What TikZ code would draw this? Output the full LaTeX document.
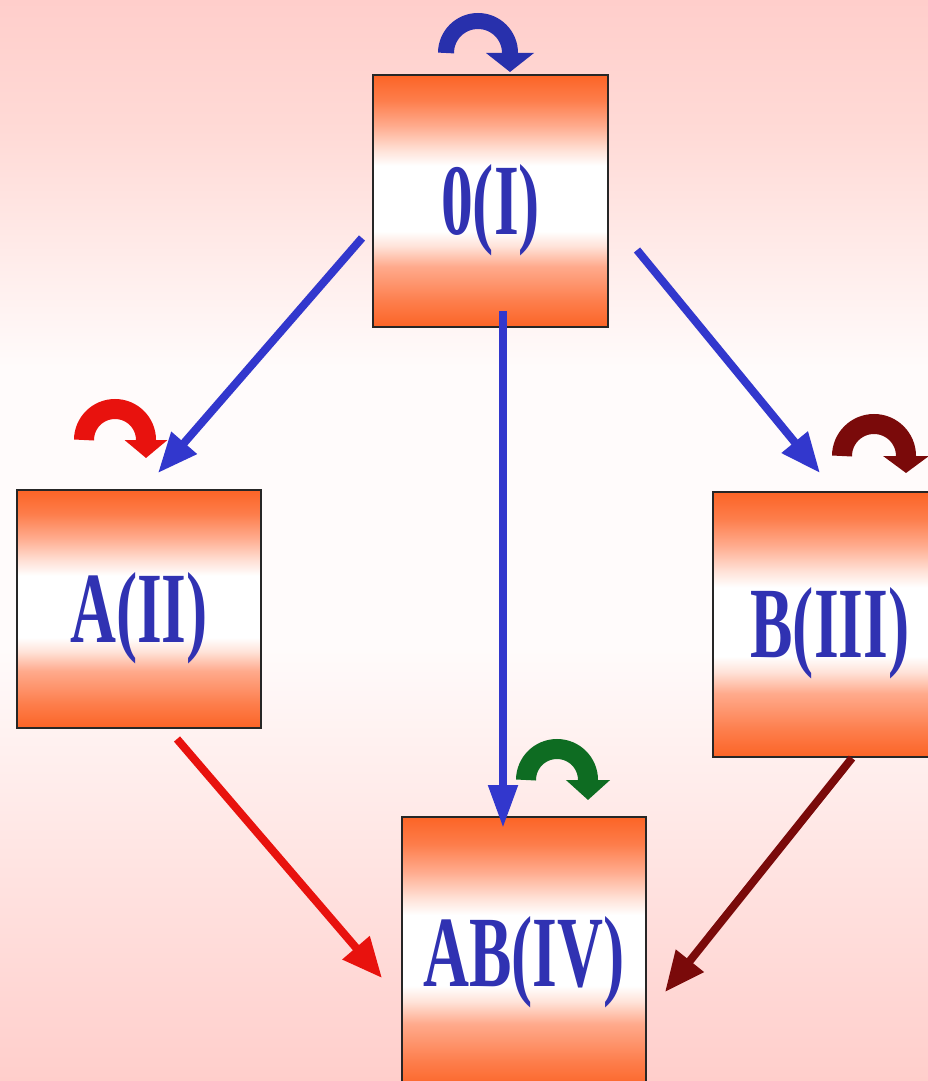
\documentclass[tikz,border=0pt]{standalone}
\usepackage{fontspec}
\setmainfont{Liberation Serif}
\usetikzlibrary{arrows.meta,calc}
\definecolor{orng}{RGB}{252,100,38}
\definecolor{orng2}{RGB}{253,125,75}
\definecolor{salm}{RGB}{255,170,140}
\definecolor{pale}{RGB}{255,226,216}
\definecolor{pkA}{RGB}{255,206,203}
\definecolor{pkB}{RGB}{255,218,214}
\definecolor{pkW}{RGB}{255,251,251}
\definecolor{pkC}{RGB}{255,230,228}
\definecolor{txtblue}{RGB}{48,50,178}
\definecolor{arrblue}{RGB}{50,55,205}
\definecolor{loopblue}{RGB}{40,48,172}
\definecolor{myred}{RGB}{232,18,14}
\definecolor{maroon}{RGB}{122,10,10}
\definecolor{mygreen}{RGB}{14,108,34}
\pgfdeclareverticalshading{boxshade}{100bp}{color(0bp)=(orng); color(25bp)=(orng); color(30bp)=(orng2); color(37bp)=(salm); color(41bp)=(pale); color(44bp)=(white); color(57bp)=(white); color(60bp)=(pale); color(65bp)=(salm); color(70bp)=(orng2); color(75bp)=(orng); color(100bp)=(orng)}
\pgfdeclareverticalshading{bgshade}{100bp}{color(0bp)=(pkA); color(25bp)=(pkA); color(36bp)=(pkC); color(45bp)=(pkW); color(58bp)=(pkW); color(69bp)=(pkB); color(75bp)=(pkA); color(100bp)=(pkA)}
\tikzset{
  statebox/.style={rectangle, draw=black!85, line width=2.3pt, shading=boxshade,
    inner sep=0pt, text=txtblue, font=\fontsize{101}{110}\selectfont\bfseries,
    text height=70pt, text depth=4pt, align=center},
  trans/.style={line width=8pt, -{Triangle[width=32pt,length=40pt]}},
  selfloop/.style={line width=18pt}
}
\newcommand{\cond}[1]{\scalebox{0.63}[1]{#1}}
\begin{document}
\begin{tikzpicture}[x=1pt,y=1pt]
\useasboundingbox (0,0) rectangle (928,-1081);
\shade[shading=bgshade] (0,0) rectangle (928,-1081);

\node[statebox, minimum width=235pt, minimum height=252pt] (O) at (490.5,-201) {\cond{0(I)}};
\node[statebox, minimum width=244pt, minimum height=238pt] (A) at (139,-609) {\cond{A(II)}};
\node[statebox, minimum width=234pt, minimum height=265pt] (B) at (830,-624.5) {\cond{B(III)}};
\node[statebox, minimum width=244pt, minimum height=272pt] (AB) at (524,-953) {\cond{AB(IV)}};

% connector end points
\coordinate (oA) at (362,-238);
\coordinate (tA) at (158,-473);
\coordinate (oAB) at (503,-311);
\coordinate (tAB) at (503,-828);
\coordinate (oB) at (637,-250);
\coordinate (tB) at (820,-473);
\coordinate (aAB) at (177,-739);
\coordinate (taAB) at (382,-978);
\coordinate (bAB) at (852,-758);
\coordinate (tbAB) at (665,-992);

\draw[trans, arrblue] (oA) -- (tA);
\draw[trans, arrblue, -{Triangle[width=28pt,length=43pt]}] (oAB) -- (tAB);
\draw[trans, arrblue] (oB) -- (tB);
\draw[trans, myred, -{Triangle[width=34pt,length=40pt]}] (aAB) -- (taAB);
\draw[trans, maroon, -{Triangle[width=34pt,length=40pt]}] (bAB) -- (tbAB);

% self loops
\coordinate (lO) at (446,-53);
\coordinate (lA) at (84,-440);
\coordinate (lB) at (842,-456);
\coordinate (lAB) at (526,-780);
\draw[selfloop, line width=16pt, loopblue, -{Triangle[width=47pt,length=19pt]}]
  (lO) arc[start angle=180, end angle=0, radius=32] -- ++(0,-19);
\draw[selfloop, line width=20pt, myred, -{Triangle[width=42pt,length=18pt]}]
  (lA) arc[start angle=180, end angle=0, radius=31] -- ++(0,-18);
\draw[selfloop, line width=20pt, maroon, -{Triangle[width=45pt,length=17pt]}]
  (lB) arc[start angle=180, end angle=0, radius=32] -- ++(0,-17);
\draw[selfloop, line width=20pt, mygreen, -{Triangle[width=43pt,length=20pt]}]
  (lAB) arc[start angle=180, end angle=0, radius=31] -- ++(0,-20);
\end{tikzpicture}
\end{document}
